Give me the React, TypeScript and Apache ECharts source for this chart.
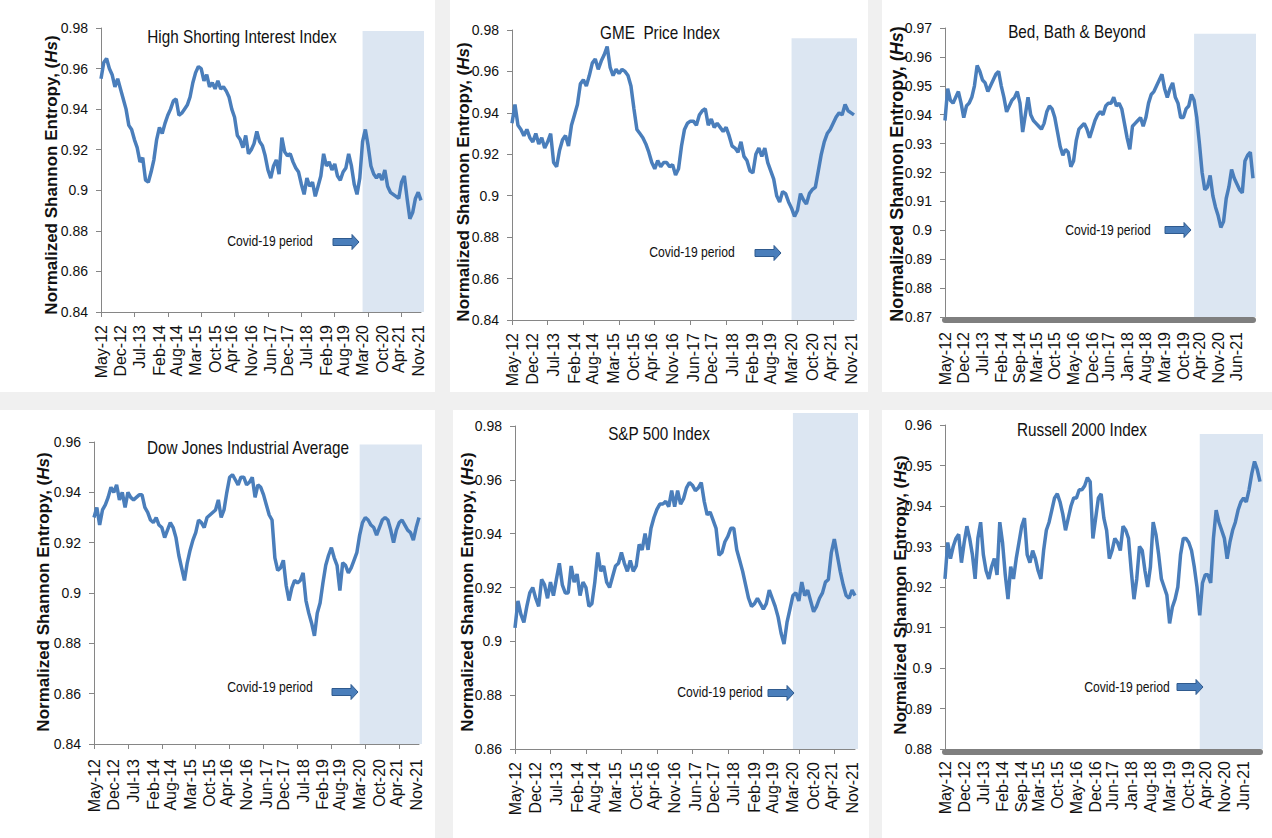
import React, { useEffect, useRef } from 'react';
import * as echarts from 'echarts';

const MONTH_NAMES = ['Jan', 'Feb', 'Mar', 'Apr', 'May', 'Jun', 'Jul', 'Aug', 'Sep', 'Oct', 'Nov', 'Dec'];
// Monthly categories May-12 .. Dec-21
const CATEGORIES: string[] = [];
for (let i = 0; i < 116; i++) {
  const m = (4 + i) % 12;
  const y = 12 + Math.floor((4 + i) / 12);
  CATEGORIES.push(`${MONTH_NAMES[m]}-${y}`);
}

const LABELS_A = ['May-12', 'Dec-12', 'Jul-13', 'Feb-14', 'Aug-14', 'Mar-15', 'Oct-15', 'Apr-16', 'Nov-16', 'Jun-17', 'Dec-17', 'Jul-18', 'Feb-19', 'Aug-19', 'Mar-20', 'Oct-20', 'Apr-21', 'Nov-21'];
const LABELS_B = ['May-12', 'Dec-12', 'Jul-13', 'Feb-14', 'Sep-14', 'Mar-15', 'Oct-15', 'May-16', 'Dec-16', 'Jun-17', 'Jan-18', 'Aug-18', 'Mar-19', 'Oct-19', 'Apr-20', 'Nov-20', 'Jun-21'];

const HIGH_SHORT = [
  0.955, 0.963, 0.965, 0.960, 0.957, 0.951, 0.955, 0.950, 0.945, 0.940,
  0.932, 0.930, 0.925, 0.921, 0.914, 0.916, 0.905, 0.904, 0.909, 0.915,
  0.925, 0.931, 0.928, 0.933, 0.937, 0.940, 0.944, 0.945, 0.937, 0.938,
  0.940, 0.942, 0.946, 0.953, 0.958, 0.961, 0.960, 0.954, 0.957, 0.951,
  0.953, 0.950, 0.954, 0.950, 0.951, 0.949, 0.946, 0.940, 0.936, 0.927,
  0.925, 0.921, 0.927, 0.918, 0.920, 0.923, 0.929, 0.924, 0.922, 0.917,
  0.910, 0.906, 0.912, 0.915, 0.908, 0.926, 0.919, 0.917, 0.918, 0.914,
  0.911, 0.909, 0.903, 0.898, 0.906, 0.902, 0.904, 0.897, 0.902, 0.907,
  0.918, 0.912, 0.914, 0.910, 0.913, 0.907, 0.905, 0.909, 0.911, 0.918,
  0.912, 0.903, 0.898, 0.906, 0.924, 0.930, 0.922, 0.912, 0.908, 0.906,
  0.908, 0.905, 0.910, 0.902, 0.899, 0.898, 0.897, 0.896, 0.904, 0.907,
  0.896, 0.886, 0.889, 0.896, 0.899, 0.895,
];
const GME = [
  0.935, 0.944, 0.934, 0.932, 0.929, 0.932, 0.928, 0.926, 0.930, 0.925,
  0.928, 0.923, 0.926, 0.930, 0.916, 0.914, 0.922, 0.927, 0.929, 0.924,
  0.934, 0.939, 0.944, 0.954, 0.956, 0.953, 0.958, 0.964, 0.966, 0.961,
  0.965, 0.968, 0.972, 0.962, 0.958, 0.961, 0.959, 0.961, 0.960, 0.958,
  0.953, 0.942, 0.932, 0.930, 0.928, 0.925, 0.921, 0.916, 0.913, 0.917,
  0.914, 0.916, 0.916, 0.914, 0.915, 0.910, 0.913, 0.924, 0.932, 0.935,
  0.936, 0.936, 0.934, 0.939, 0.941, 0.942, 0.934, 0.937, 0.933, 0.935,
  0.933, 0.931, 0.933, 0.929, 0.924, 0.923, 0.921, 0.926, 0.919, 0.917,
  0.912, 0.911, 0.920, 0.923, 0.919, 0.923, 0.916, 0.912, 0.908, 0.900,
  0.897, 0.902, 0.901, 0.897, 0.894, 0.890, 0.893, 0.901, 0.898, 0.896,
  0.901, 0.903, 0.904, 0.912, 0.920, 0.926, 0.930, 0.932, 0.935, 0.938,
  0.940, 0.939, 0.944, 0.941, 0.940, 0.939,
];
const BBBY = [
  0.938, 0.949, 0.945, 0.944, 0.946, 0.948, 0.944, 0.939, 0.943, 0.944,
  0.946, 0.950, 0.957, 0.955, 0.952, 0.951, 0.948, 0.950, 0.952, 0.954,
  0.955, 0.950, 0.946, 0.941, 0.943, 0.945, 0.946, 0.948, 0.944, 0.934,
  0.940, 0.946, 0.940, 0.938, 0.937, 0.936, 0.935, 0.937, 0.941, 0.943,
  0.942, 0.939, 0.934, 0.929, 0.926, 0.928, 0.927, 0.922, 0.924, 0.931,
  0.935, 0.936, 0.937, 0.935, 0.932, 0.935, 0.938, 0.940, 0.941, 0.940,
  0.943, 0.944, 0.944, 0.946, 0.943, 0.944, 0.942, 0.937, 0.932, 0.928,
  0.936, 0.937, 0.938, 0.939, 0.936, 0.939, 0.944, 0.947, 0.948, 0.950,
  0.952, 0.954, 0.949, 0.946, 0.949, 0.951, 0.946, 0.944, 0.939, 0.939,
  0.942, 0.943, 0.947, 0.945, 0.939, 0.930, 0.920, 0.914, 0.915, 0.919,
  0.912, 0.908, 0.905, 0.901, 0.903, 0.911, 0.915, 0.921, 0.918, 0.916,
  0.914, 0.913, 0.924, 0.926, 0.927, 0.918,
];
const DJIA = [
  0.930, 0.934, 0.927, 0.933, 0.935, 0.938, 0.942, 0.940, 0.943, 0.937,
  0.940, 0.934, 0.940, 0.938, 0.937, 0.938, 0.939, 0.939, 0.934, 0.932,
  0.929, 0.928, 0.930, 0.927, 0.926, 0.922, 0.925, 0.928, 0.926, 0.922,
  0.915, 0.910, 0.905, 0.912, 0.917, 0.921, 0.924, 0.929, 0.928, 0.926,
  0.930, 0.931, 0.932, 0.933, 0.937, 0.930, 0.933, 0.940, 0.946, 0.947,
  0.945, 0.943, 0.946, 0.946, 0.943, 0.944, 0.946, 0.938, 0.943, 0.942,
  0.939, 0.935, 0.931, 0.929, 0.914, 0.909, 0.910, 0.913, 0.903, 0.897,
  0.902, 0.905, 0.904, 0.905, 0.908, 0.897, 0.892, 0.888, 0.883, 0.892,
  0.896, 0.904, 0.911, 0.915, 0.918, 0.914, 0.911, 0.901, 0.912, 0.911,
  0.908, 0.910, 0.913, 0.916, 0.923, 0.928, 0.930, 0.929, 0.927, 0.926,
  0.923, 0.926, 0.929, 0.930, 0.929, 0.925, 0.920, 0.925, 0.928, 0.929,
  0.927, 0.925, 0.924, 0.921, 0.926, 0.930,
];
const SP500 = [
  0.905, 0.915, 0.910, 0.907, 0.913, 0.918, 0.920, 0.916, 0.913, 0.923,
  0.921, 0.916, 0.922, 0.917, 0.923, 0.929, 0.921, 0.918, 0.918, 0.928,
  0.922, 0.925, 0.917, 0.922, 0.920, 0.913, 0.914, 0.922, 0.933, 0.926,
  0.928, 0.922, 0.920, 0.924, 0.928, 0.929, 0.933, 0.929, 0.926, 0.930,
  0.926, 0.928, 0.936, 0.934, 0.940, 0.934, 0.942, 0.946, 0.949, 0.951,
  0.951, 0.952, 0.950, 0.956, 0.950, 0.956, 0.951, 0.953, 0.957, 0.959,
  0.958, 0.956, 0.957, 0.959, 0.952, 0.947, 0.948, 0.945, 0.942, 0.932,
  0.933, 0.937, 0.939, 0.942, 0.942, 0.934, 0.930, 0.926, 0.921, 0.916,
  0.913, 0.914, 0.916, 0.914, 0.912, 0.914, 0.919, 0.916, 0.913, 0.909,
  0.903, 0.899, 0.907, 0.912, 0.917, 0.918, 0.915, 0.922, 0.917, 0.919,
  0.915, 0.911, 0.913, 0.916, 0.918, 0.922, 0.923, 0.933, 0.938, 0.932,
  0.926, 0.921, 0.917, 0.916, 0.919, 0.917,
];
const RUSSELL = [
  0.922, 0.931, 0.927, 0.930, 0.932, 0.933, 0.926, 0.931, 0.935, 0.932,
  0.928, 0.922, 0.932, 0.936, 0.928, 0.924, 0.922, 0.925, 0.927, 0.923,
  0.936, 0.931, 0.923, 0.917, 0.925, 0.922, 0.927, 0.931, 0.935, 0.937,
  0.928, 0.926, 0.929, 0.927, 0.924, 0.922, 0.929, 0.934, 0.936, 0.939,
  0.942, 0.943, 0.941, 0.938, 0.934, 0.937, 0.940, 0.942, 0.942, 0.944,
  0.944, 0.945, 0.947, 0.946, 0.932, 0.937, 0.942, 0.943, 0.937, 0.934,
  0.927, 0.929, 0.932, 0.931, 0.929, 0.935, 0.934, 0.932, 0.924, 0.917,
  0.922, 0.930, 0.929, 0.924, 0.920, 0.925, 0.936, 0.933, 0.928, 0.922,
  0.920, 0.918, 0.911, 0.915, 0.917, 0.920, 0.928, 0.932, 0.932, 0.931,
  0.929, 0.925, 0.920, 0.913, 0.921, 0.923, 0.923, 0.921, 0.932, 0.939,
  0.936, 0.934, 0.932, 0.927, 0.931, 0.934, 0.936, 0.939, 0.941, 0.942,
  0.941, 0.944, 0.948, 0.951, 0.949, 0.946,
];

const SERIES = [HIGH_SHORT, GME, BBBY, DJIA, SP500, RUSSELL];
const TITLES = ['High Shorting Interest Index', 'GME  Price Index', 'Bed, Bath & Beyond', 'Dow Jones Industrial Average', 'S&P 500 Index', 'Russell 2000 Index'];
const Y_MIN = [0.84, 0.84, 0.87, 0.84, 0.86, 0.88];
const Y_MAX = [0.98, 0.98, 0.97, 0.96, 0.98, 0.96];
const Y_STEP = [0.02, 0.02, 0.01, 0.02, 0.02, 0.01];
const TICK_LABELS = [LABELS_A, LABELS_A, LABELS_B, LABELS_A, LABELS_A, LABELS_B];
const COVID_START = ['Mar-20', 'Mar-20', 'Feb-20', 'Mar-20', 'Mar-20', 'Feb-20'];
const SHADE_TOP = [0.9785, 0.976, 0.968, 0.959, 0.9848, 0.9578];
const COVID_TEXT = 'Covid-19 period';

// layout (pixels)
const PANEL_RECTS = [
  [0, 0, 435, 392], [450, 0, 418, 392], [882, 0, 390, 392],
  [0, 410, 435, 428], [453, 410, 416, 428], [882, 410, 390, 428],
];
const GRIDS = [
  { left: 101, top: 28, width: 320, height: 284 },
  { left: 512, top: 30, width: 342, height: 290 },
  { left: 945, top: 28, width: 308, height: 289 },
  { left: 94, top: 442, width: 325, height: 302 },
  { left: 515, top: 426, width: 340, height: 323 },
  { left: 945, top: 425, width: 315, height: 324 },
];
const THICK_AXIS = [false, false, true, false, false, true];
const X_LABEL_MARGIN = [13, 13, 12, 15, 13, 9];
const TITLE_POS = [[242, 37], [660, 33], [1077, 32], [248, 448], [659, 434], [1082, 430]];
const YTITLE_POS = [[51, 175], [463, 182], [897, 174], [43, 592], [467, 592], [900, 595]];
const YTITLE_SIZE = [17, 17, 18, 17, 17, 17];
const COVID_POS = [[270, 241], [692, 252], [1108, 230], [270, 687], [720, 692], [1127, 687]];
const ARROW_POS = [[333, 242], [755, 253], [1165, 230], [332, 692], [768, 693], [1177, 687]];

const ARIAL = '"Liberation Sans", Arial, sans-serif';
const LINE_COLOR = '#4a7ebb';
const AXIS_COLOR = '#868686';
const SHADE_COLOR = '#dce6f2';
const TEXT_COLOR = '#111111';

export default function App() {
  const ref = useRef<HTMLDivElement>(null);
  useEffect(() => {
    document.body.style.margin = '0';
    if (!ref.current) return;
    const chart = echarts.init(ref.current, undefined, { renderer: 'svg' });
    const option: any = {
      animation: false,
      backgroundColor: '#f0f0f0',
      grid: GRIDS.map((g) => ({ ...g, containLabel: false })),
      xAxis: SERIES.map((_, k) => ({
        type: 'category',
        gridIndex: k,
        data: CATEGORIES,
        boundaryGap: false,
        offset: THICK_AXIS[k] ? 3 : 0,
        axisLine: { show: true, lineStyle: { color: THICK_AXIS[k] ? '#7f7f7f' : AXIS_COLOR, width: THICK_AXIS[k] ? 6 : 1 } },
        axisTick: {
          show: !THICK_AXIS[k],
          interval: (i: number) => i % 12 === 0,
          length: 5,
          lineStyle: { color: AXIS_COLOR },
        },
        axisLabel: {
          interval: (_i: number, v: string) => TICK_LABELS[k].includes(v),
          rotate: 90,
          margin: X_LABEL_MARGIN[k],
          fontSize: 16,
          fontFamily: ARIAL,
          color: TEXT_COLOR,
        },
        splitLine: { show: false },
      })),
      yAxis: SERIES.map((_, k) => ({
        type: 'value',
        gridIndex: k,
        min: Y_MIN[k],
        max: Y_MAX[k],
        interval: Y_STEP[k],
        axisLine: { show: true, lineStyle: { color: AXIS_COLOR } },
        axisTick: { show: true, length: 5, lineStyle: { color: AXIS_COLOR } },
        splitLine: { show: false },
        axisLabel: { margin: 13, fontSize: 14, fontFamily: ARIAL, color: TEXT_COLOR },
      })),
      series: SERIES.map((d, k) => ({
        type: 'line',
        xAxisIndex: k,
        yAxisIndex: k,
        data: d,
        symbol: 'none',
        showSymbol: false,
        silent: true,
        clip: false,
        z: 5,
        lineStyle: { color: LINE_COLOR, width: 3.5 },
      })),
    };
    chart.setOption(option);

    const graphics: any[] = [];
    PANEL_RECTS.forEach(([x, y, w, h]) => {
      graphics.push({ type: 'rect', z: -20, silent: true, shape: { x, y, width: w, height: h }, style: { fill: '#ffffff' } });
    });
    SERIES.forEach((_, k) => {
      const p0 = chart.convertToPixel({ gridIndex: k }, [COVID_START[k], SHADE_TOP[k]]) as number[];
      const p1 = chart.convertToPixel({ gridIndex: k }, [CATEGORIES[CATEGORIES.length - 1], Y_MIN[k]]) as number[];
      graphics.push({
        type: 'rect', z: -10, silent: true,
        shape: { x: p0[0], y: p0[1], width: p1[0] - p0[0] + 3, height: p1[1] - p0[1] },
        style: { fill: SHADE_COLOR },
      });
      graphics.push({
        type: 'text', z: 10, x: TITLE_POS[k][0], y: TITLE_POS[k][1], scaleX: 0.85, silent: true,
        style: { text: TITLES[k], x: 0, y: 0, align: 'center', verticalAlign: 'middle', fontSize: 18, fontFamily: ARIAL, fill: TEXT_COLOR },
      });
      graphics.push({
        type: 'text', z: 10, x: COVID_POS[k][0], y: COVID_POS[k][1], scaleX: 0.81, silent: true,
        style: { text: COVID_TEXT, x: 0, y: 0, align: 'center', verticalAlign: 'middle', fontSize: 15, fontFamily: ARIAL, fill: TEXT_COLOR },
      });
      const fs = YTITLE_SIZE[k];
      graphics.push({
        type: 'text', z: 10, x: YTITLE_POS[k][0], y: YTITLE_POS[k][1], rotation: Math.PI / 2, silent: true,
        style: {
          text: '{a|Normalized Shannon Entropy, (}{b|Hs}{a|)}',
          x: 0, y: 0, align: 'center', verticalAlign: 'middle',
          rich: {
            a: { fontSize: fs, fontWeight: 'bold', fontFamily: ARIAL, fill: TEXT_COLOR },
            b: { fontSize: fs, fontWeight: 'bold', fontStyle: 'italic', fontFamily: ARIAL, fill: TEXT_COLOR },
          },
        },
      });
      const [ax, ay] = ARROW_POS[k];
      graphics.push({
        type: 'polygon', z: 10, silent: true,
        shape: {
          points: [
            [ax, ay - 3.5], [ax + 19, ay - 3.5], [ax + 19, ay - 7.5], [ax + 26, ay],
            [ax + 19, ay + 7.5], [ax + 19, ay + 3.5], [ax, ay + 3.5],
          ],
        },
        style: { fill: '#4a7ebb', stroke: '#2f5a8e', lineWidth: 1 },
      });
    });
    chart.setOption({ graphic: { elements: graphics } });

    return () => chart.dispose();
  }, []);
  return <div ref={ref} style={{ width: 1272, height: 838 }} />;
}
